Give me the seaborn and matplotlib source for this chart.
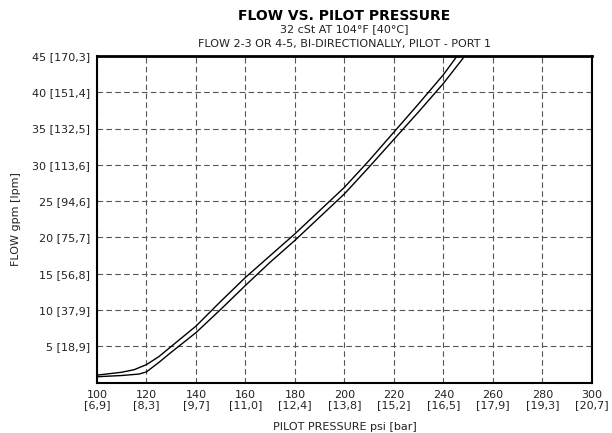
import matplotlib
matplotlib.use("Agg")
import matplotlib.pyplot as plt
import seaborn as sns
import pandas as pd

# curve data (psi, gpm)
pressure_upper = [100, 110, 115, 120, 125, 130, 140, 150, 160, 170, 180, 190, 200, 210, 220, 230, 240, 245.6]
flow_upper = [1.05, 1.45, 1.8, 2.5, 3.6, 5.0, 7.8, 11.2, 14.5, 17.5, 20.5, 23.7, 26.9, 30.6, 34.5, 38.4, 42.4, 45.0]

pressure_lower = [100, 110, 117, 120, 125, 130, 140, 150, 160, 170, 180, 190, 200, 210, 220, 230, 240, 248.7]
flow_lower = [0.83, 1.0, 1.2, 1.5, 2.8, 4.2, 6.9, 10.1, 13.4, 16.6, 19.6, 22.8, 26.0, 29.7, 33.5, 37.3, 41.2, 45.0]

x_ticks = [100, 120, 140, 160, 180, 200, 220, 240, 260, 280, 300]
x_bar = ["6,9", "8,3", "9,7", "11,0", "12,4", "13,8", "15,2", "16,5", "17,9", "19,3", "20,7"]
y_ticks = [5, 10, 15, 20, 25, 30, 35, 40, 45]
y_lpm = ["18,9", "37,9", "56,8", "75,7", "94,6", "113,6", "132,5", "151,4", "170,3"]

df = pd.concat([
    pd.DataFrame({"psi": pressure_upper, "gpm": flow_upper, "curve": "upper"}),
    pd.DataFrame({"psi": pressure_lower, "gpm": flow_lower, "curve": "lower"}),
])

sns.set_theme(style="white")
plt.rcParams['font.family'] = ['Liberation Sans Narrow', 'DejaVu Sans']
txt = "#222222"

fig = plt.figure(figsize=(6.12, 4.33), dpi=100)
ax = fig.add_axes([0.1585, 0.116, 0.8085, 0.755])

sns.lineplot(data=df, x="psi", y="gpm", units="curve", estimator=None, sort=False,
             color="black", linewidth=1.0, ax=ax)

ax.set_xlim(100, 300)
ax.set_ylim(0, 45)
ax.set_xticks(x_ticks)
ax.set_xticklabels([f"{v}\n[{b}]" for v, b in zip(x_ticks, x_bar)], fontsize=8, color=txt,
                   linespacing=1.1)
ax.set_yticks(y_ticks)
ax.set_yticklabels([f"{v} [{l}]" for v, l in zip(y_ticks, y_lpm)], fontsize=8, color=txt)
ax.tick_params(length=0, pad=5)

ax.grid(True, color="#555555", linestyle=(0, (5, 3)), linewidth=0.8)
for s in ax.spines.values():
    s.set_color("black")
    s.set_linewidth(1.5)
ax.spines["top"].set_linewidth(2)

ax.set_xlabel("PILOT PRESSURE psi [bar]", fontsize=8, color=txt, labelpad=8)
ax.set_ylabel("FLOW gpm [lpm]", fontsize=8, color=txt, labelpad=8)

fig.text(0.563, 0.962, "FLOW VS. PILOT PRESSURE", ha="center", va="center",
         fontsize=10, fontweight="bold", color="black")
fig.text(0.563, 0.933, "32 cSt AT 104°F [40°C]", ha="center", va="center",
         fontsize=8, color=txt)
fig.text(0.563, 0.898, "FLOW 2-3 OR 4-5, BI-DIRECTIONALLY, PILOT - PORT 1", ha="center",
         va="center", fontsize=8, color=txt)

fig.savefig("out.png", dpi=100, facecolor="white")
